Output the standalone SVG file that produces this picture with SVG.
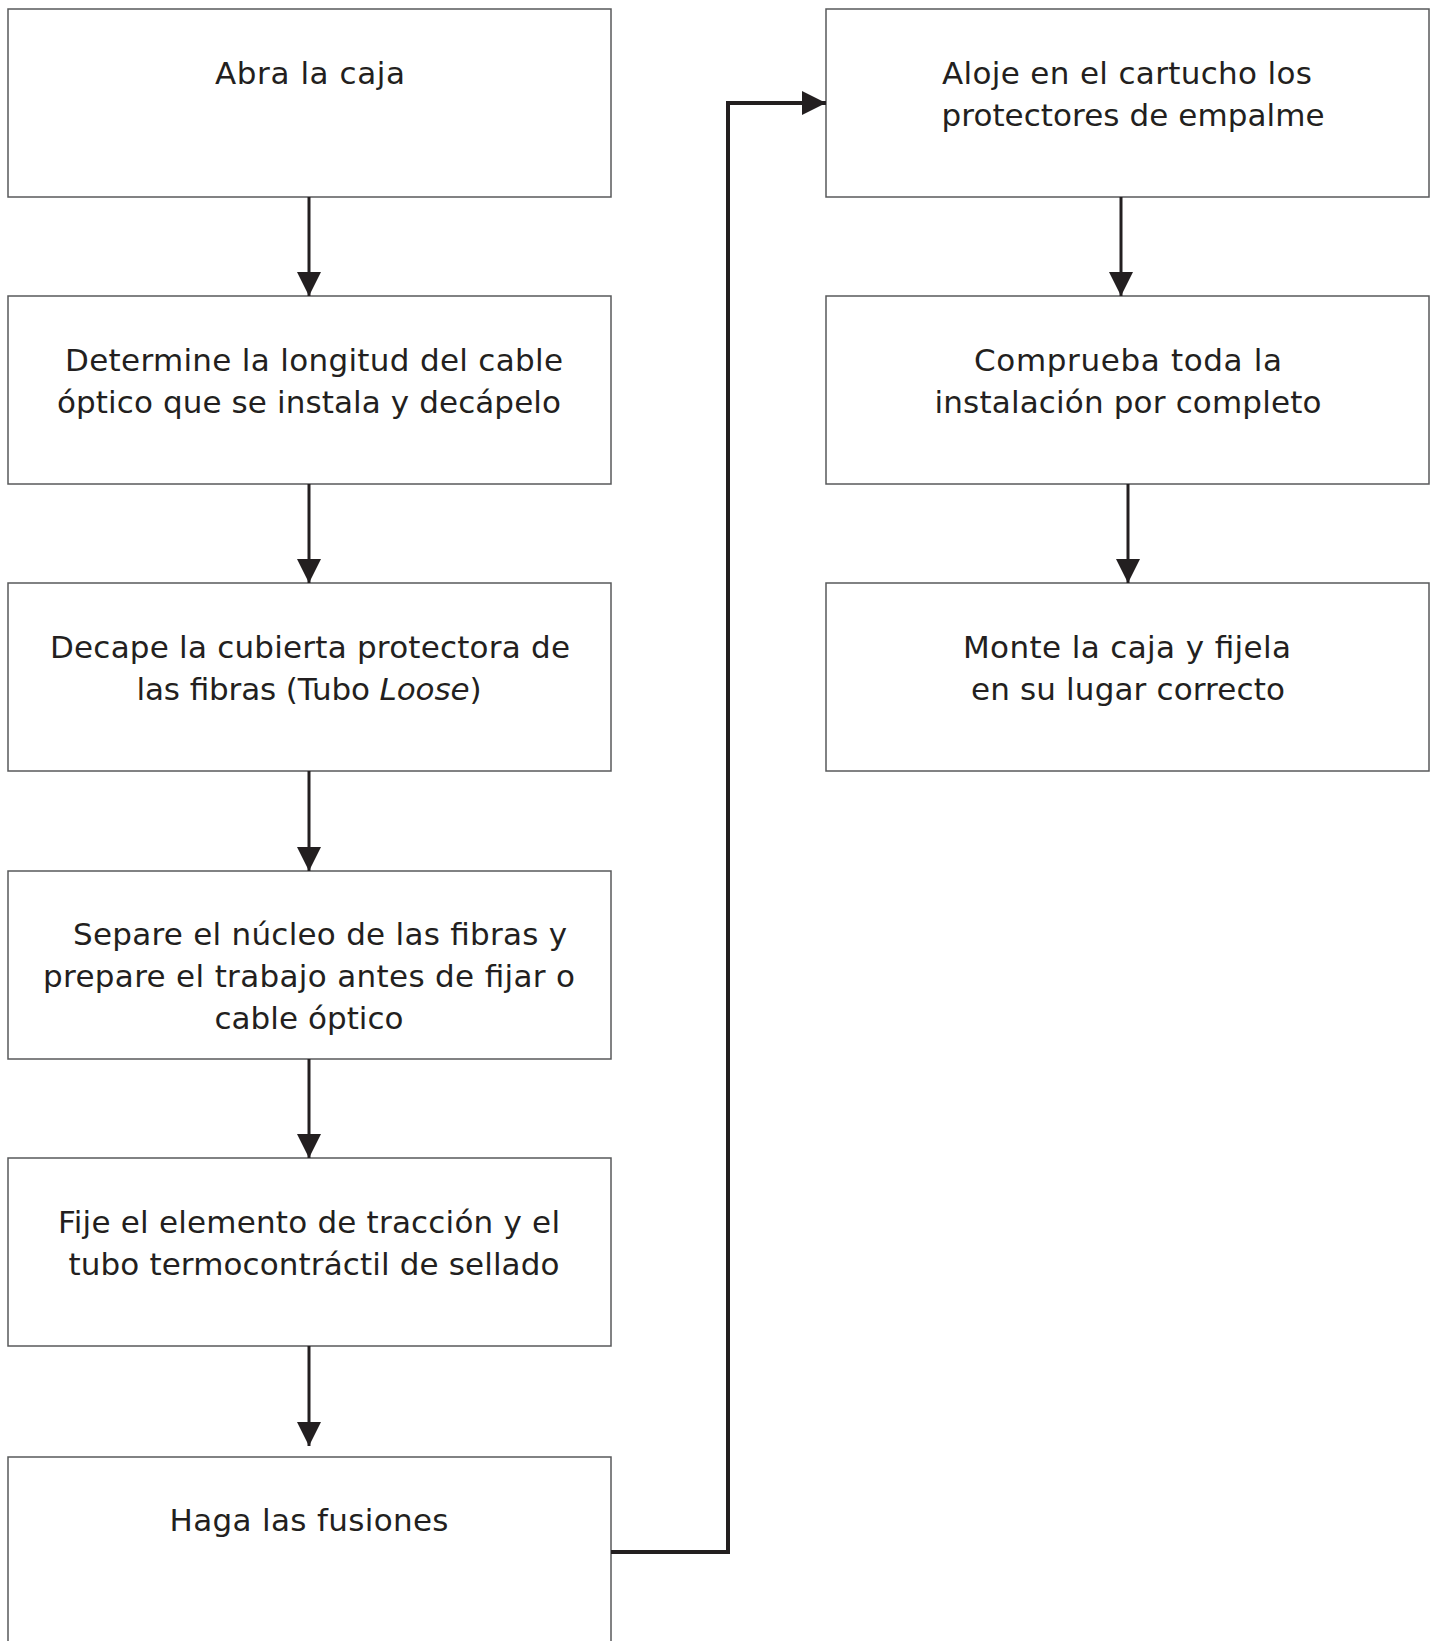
<svg xmlns="http://www.w3.org/2000/svg" width="1441" height="1641" viewBox="0 0 1441 1641">
<style>
.box{fill:#fff;stroke:#58595b;stroke-width:1.5}
.t{font-family:"DejaVu Sans","Liberation Sans",sans-serif;font-size:31px;fill:#231f20;text-anchor:middle}
.c{fill:none;stroke:#231f20;stroke-width:3}
.c2{fill:none;stroke:#231f20;stroke-width:4}
</style>
<defs>
<marker id="ah" markerUnits="userSpaceOnUse" markerWidth="24" markerHeight="24" refX="22" refY="11" orient="auto" viewBox="0 0 22 22">
<path d="M0,0 L22,11 L0,22 z" fill="#231f20"/>
</marker>
</defs>
<rect width="1441" height="1641" fill="#fff"/>
<g id="n1"><rect class="box" x="8" y="9" width="603" height="188"/><text class="t" x="310" y="84" textLength="190">Abra la caja</text></g>
<g id="n2"><rect class="box" x="8" y="296" width="603" height="188"/><text class="t" x="314" y="371" textLength="498">Determine la longitud del cable</text><text class="t" x="309" y="413" textLength="504">óptico que se instala y decápelo</text></g>
<g id="n3"><rect class="box" x="8" y="583" width="603" height="188"/><text class="t" x="310" y="658" textLength="520">Decape la cubierta protectora de</text><text class="t" x="309" y="700" textLength="345">las fibras (Tubo <tspan font-style="italic">Loose</tspan>)</text></g>
<g id="n4"><rect class="box" x="8" y="871" width="603" height="188"/><text class="t" x="320" y="945" textLength="494">Separe el núcleo de las fibras y</text><text class="t" x="309" y="987" textLength="532">prepare el trabajo antes de fijar o</text><text class="t" x="309" y="1029" textLength="189">cable óptico</text></g>
<g id="n5"><rect class="box" x="8" y="1158" width="603" height="188"/><text class="t" x="309" y="1233" textLength="502">Fije el elemento de tracción y el</text><text class="t" x="314" y="1275" textLength="491">tubo termocontráctil de sellado</text></g>
<g id="n6"><rect class="box" x="8" y="1457" width="603" height="200"/><text class="t" x="309" y="1531" textLength="279">Haga las fusiones</text></g>
<g id="n7"><rect class="box" x="826" y="9" width="603" height="188"/><text class="t" x="1127" y="84" textLength="370">Aloje en el cartucho los</text><text class="t" x="1133" y="126" textLength="383">protectores de empalme</text></g>
<g id="n8"><rect class="box" x="826" y="296" width="603" height="188"/><text class="t" x="1128" y="371" textLength="308">Comprueba toda la</text><text class="t" x="1128" y="413" textLength="387">instalación por completo</text></g>
<g id="n9"><rect class="box" x="826" y="583" width="603" height="188"/><text class="t" x="1127" y="658" textLength="328">Monte la caja y fijela</text><text class="t" x="1128" y="700" textLength="314">en su lugar correcto</text></g>
<g id="connectors">
<line class="c" x1="309" y1="197" x2="309" y2="296" marker-end="url(#ah)"/>
<line class="c" x1="309" y1="484" x2="309" y2="583" marker-end="url(#ah)"/>
<line class="c" x1="309" y1="771" x2="309" y2="871" marker-end="url(#ah)"/>
<line class="c" x1="309" y1="1059" x2="309" y2="1158" marker-end="url(#ah)"/>
<line class="c" x1="309" y1="1346" x2="309" y2="1446" marker-end="url(#ah)"/>
<polyline class="c2" points="611,1552 728,1552 728,103 826,103" marker-end="url(#ah)"/>
<line class="c" x1="1121" y1="197" x2="1121" y2="296" marker-end="url(#ah)"/>
<line class="c" x1="1128" y1="484" x2="1128" y2="583" marker-end="url(#ah)"/>
</g>
</svg>
